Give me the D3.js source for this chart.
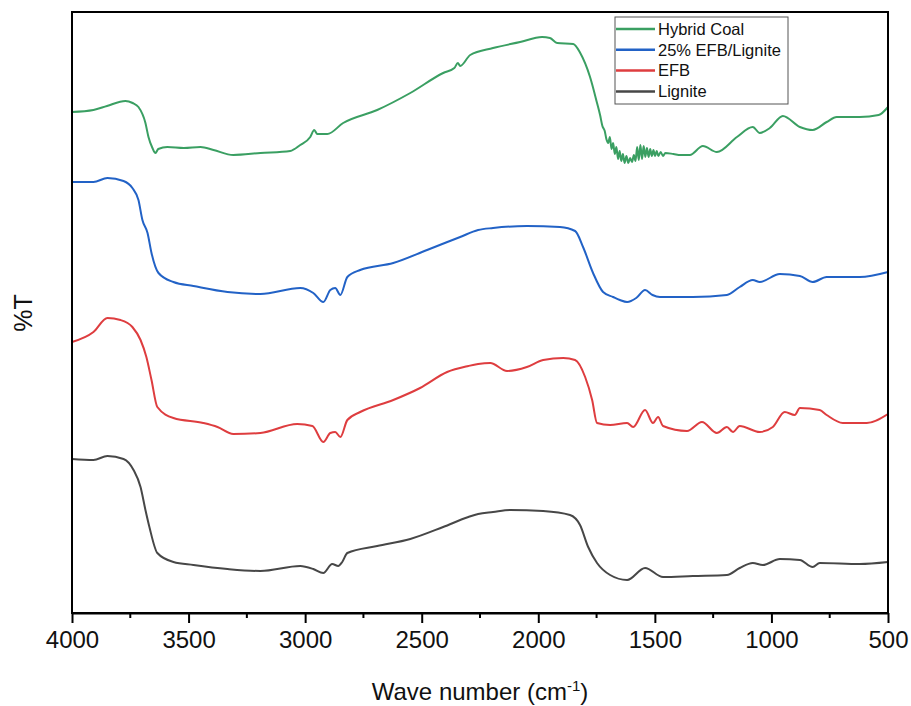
<!DOCTYPE html>
<html>
<head>
<meta charset="utf-8">
<script src="https://cdn.jsdelivr.net/npm/d3@7"></script>
<style>
  body { margin: 0; background: #fff; }
  text { font-family: "Liberation Sans", Arial, sans-serif; }
</style>
</head>
<body>
<script>
// wave number (cm-1) and transmittance (arbitrary offset units)
const hybridCoal = [
  [4000, 501], [3908, 503], [3850, 507], [3771, 512], [3740, 510], [3715, 506], [3685, 490],
  [3672, 476], [3655, 465], [3642, 460], [3630, 464], [3591, 466], [3520, 465], [3449, 466],
  [3393, 463], [3308, 458], [3192, 460], [3064, 462], [3021, 468], [2978, 476], [2961, 483],
  [2948, 479], [2905, 479], [2837, 490], [2691, 503], [2549, 520], [2408, 540], [2360, 545],
  [2345, 550], [2335, 547], [2292, 558], [2194, 565], [2078, 571], [1984, 576], [1950, 575],
  [1919, 570], [1850, 569], [1820, 560], [1778, 536], [1748, 510], [1735, 498], [1725, 487],
  [1715, 482], [1708, 474], [1700, 470], [1693, 476], [1686, 464], [1679, 470], [1672, 459],
  [1665, 466], [1658, 454], [1651, 462], [1644, 452], [1637, 459], [1630, 450], [1622, 457],
  [1614, 450], [1606, 455], [1598, 451], [1590, 458], [1583, 452], [1576, 466], [1569, 453],
  [1562, 468], [1555, 454], [1548, 467], [1541, 456], [1534, 465], [1527, 456], [1520, 464],
  [1513, 457], [1506, 463], [1499, 457], [1492, 462], [1485, 457], [1475, 461], [1465, 457],
  [1455, 460], [1420, 459], [1390, 458], [1350, 458], [1294, 467], [1234, 461], [1148, 476],
  [1080, 486], [1050, 480], [1007, 485], [951, 497], [878, 486], [823, 483], [763, 491],
  [720, 496], [621, 496], [540, 498], [500, 506]
];

const blend25 = [
  [4000, 431], [3908, 431], [3848, 435], [3779, 432], [3741, 425], [3715, 413], [3698, 393],
  [3676, 380], [3659, 360], [3629, 340], [3565, 331], [3479, 327], [3333, 321], [3192, 319],
  [3021, 325], [2965, 320], [2922, 311], [2892, 323], [2871, 325], [2849, 318], [2819, 336],
  [2764, 343], [2622, 350], [2477, 363], [2335, 376], [2258, 383], [2194, 385], [2049, 387],
  [1907, 386], [1842, 382], [1808, 366], [1765, 340], [1722, 321], [1679, 316], [1650, 313],
  [1619, 311], [1580, 315], [1542, 323], [1510, 318], [1478, 316], [1337, 316], [1191, 318],
  [1136, 326], [1080, 333], [1050, 331], [964, 339], [878, 337], [823, 331], [763, 336],
  [621, 336], [500, 341]
];

const efb = [
  [4000, 271], [3908, 281], [3848, 295], [3792, 293], [3741, 286], [3706, 273], [3681, 256],
  [3659, 233], [3634, 206], [3565, 195], [3437, 190], [3376, 186], [3308, 179], [3192, 180],
  [3034, 189], [2969, 187], [2922, 171], [2892, 180], [2871, 181], [2849, 176], [2819, 193],
  [2764, 201], [2622, 213], [2507, 225], [2391, 241], [2300, 247], [2258, 249], [2206, 250],
  [2134, 242], [2049, 246], [1979, 253], [1893, 255], [1842, 253], [1799, 236], [1769, 213],
  [1748, 190], [1692, 188], [1619, 190], [1593, 186], [1542, 203], [1508, 190], [1486, 196],
  [1465, 187], [1362, 182], [1298, 191], [1234, 180], [1191, 186], [1165, 181], [1136, 187],
  [1050, 181], [994, 186], [943, 201], [900, 198], [878, 205], [793, 203], [763, 198],
  [694, 190], [591, 190], [500, 199]
];

const lignite = [
  [4000, 154], [3908, 153], [3848, 157], [3779, 154], [3736, 143], [3706, 126], [3685, 103],
  [3668, 86], [3634, 60], [3565, 51], [3479, 48], [3333, 44], [3192, 42], [3021, 47],
  [2965, 44], [2922, 40], [2884, 49], [2858, 47], [2841, 51], [2819, 60], [2691, 67],
  [2549, 74], [2408, 86], [2300, 96], [2258, 99], [2194, 101], [2121, 103], [1979, 102],
  [1864, 98], [1821, 88], [1786, 66], [1748, 50], [1692, 38], [1619, 33], [1542, 45],
  [1465, 36], [1337, 37], [1191, 38], [1136, 45], [1080, 50], [1037, 48], [964, 54],
  [878, 53], [823, 46], [793, 50], [621, 49], [500, 51]
];

const seriesNames = ['Hybrid Coal', '25% EFB/Lignite', 'EFB', 'Lignite'];
const seriesData = [hybridCoal, blend25, efb, lignite];
const seriesColors = ['#3a9f62', '#2262c6', '#de3d3f', '#474747'];
const xTicks = [4000, 3500, 3000, 2500, 2000, 1500, 1000, 500];
const xMinorTicks = [3750, 3250, 2750, 2250, 1750, 1250, 750];

const width = 911;
const height = 706;
const margin = { top: 12, right: 23, bottom: 93, left: 72 };
const bottom = height - margin.bottom;

const svg = d3.select('body').append('svg')
  .attr('width', width)
  .attr('height', height);

const x = d3.scaleLinear().domain([4000, 500]).range([margin.left, width - margin.right]);
const y = d3.scaleLinear().domain([0, 601]).range([bottom, margin.top]);

// curves
const line = d3.line()
  .x(d => x(d[0]))
  .y(d => y(d[1]))
  .curve(d3.curveMonotoneX);

svg.append('g').selectAll('path').data(seriesData).enter()
  .append('path')
  .attr('fill', 'none')
  .attr('stroke', (d, i) => seriesColors[i])
  .attr('stroke-width', 2)
  .attr('stroke-linejoin', 'round')
  .attr('d', line);

// bottom axis, major ticks
const xAxis = svg.append('g')
  .attr('transform', `translate(0,${bottom})`)
  .call(d3.axisBottom(x).tickValues(xTicks).tickSize(10).tickSizeOuter(0)
    .tickPadding(8).tickFormat(d3.format('d')));
xAxis.select('.domain').attr('stroke-width', 2);
xAxis.selectAll('line').attr('stroke-width', 2);
xAxis.selectAll('text')
  .attr('font-size', 24)
  .attr('font-family', '"Liberation Sans", Arial, sans-serif')
  .attr('fill', '#111');

// minor ticks
svg.append('g').selectAll('line').data(xMinorTicks).enter()
  .append('line')
  .attr('x1', d => x(d)).attr('x2', d => x(d))
  .attr('y1', bottom).attr('y2', bottom + 5)
  .attr('stroke', '#000')
  .attr('stroke-width', 2);

// frame
svg.append('rect')
  .attr('x', margin.left)
  .attr('y', margin.top)
  .attr('width', width - margin.left - margin.right)
  .attr('height', bottom - margin.top)
  .attr('fill', 'none')
  .attr('stroke', '#000')
  .attr('stroke-width', 2);

// axis titles
const xt = svg.append('text')
  .attr('x', (margin.left + width - margin.right) / 2)
  .attr('y', 700)
  .attr('text-anchor', 'middle')
  .attr('font-size', 24)
  .attr('fill', '#111');
xt.append('tspan').text('Wave number (cm');
xt.append('tspan').attr('font-size', 15).attr('dy', -9).text('-1');
xt.append('tspan').attr('dy', 9).text(')');

svg.append('text')
  .attr('transform', 'translate(32,313) rotate(-90)')
  .attr('text-anchor', 'middle')
  .attr('font-size', 25)
  .attr('fill', '#111')
  .text('%T');

// legend
const legend = svg.append('g').attr('transform', 'translate(615,17)');
legend.append('rect')
  .attr('width', 173)
  .attr('height', 87)
  .attr('fill', '#fff')
  .attr('stroke', '#555')
  .attr('stroke-width', 1);

const items = legend.selectAll('g.item').data(seriesNames).enter()
  .append('g')
  .attr('transform', (d, i) => `translate(0,${12 + i * 20.8})`);
items.append('line')
  .attr('x1', 1).attr('x2', 40)
  .attr('stroke', (d, i) => seriesColors[i])
  .attr('stroke-width', 2.5);
items.append('text')
  .attr('x', 43)
  .attr('dy', '0.35em')
  .attr('font-size', 16.5)
  .attr('fill', '#111')
  .text(d => d);
</script>
</body>
</html>
